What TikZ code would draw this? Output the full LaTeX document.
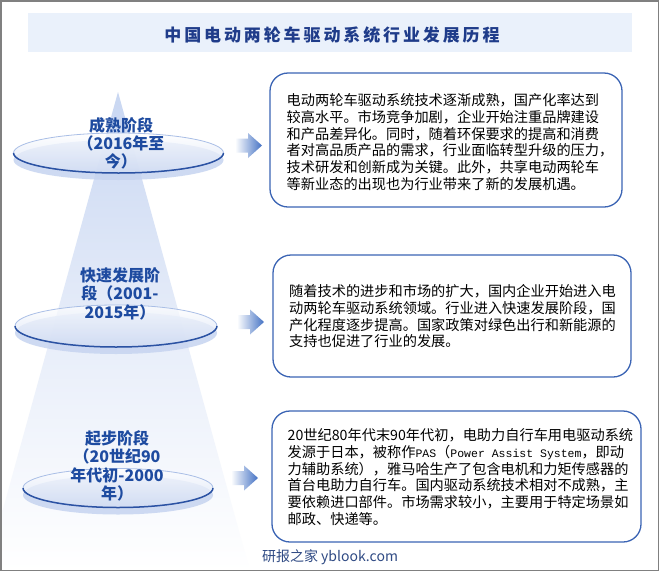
\documentclass[tikz,border=0pt]{standalone}
\usepackage{fontspec}
\setmainfont{Liberation Serif}
\newfontfamily\cjk{Noto Sans CJK SC}
\newfontfamily\cjktitle[LetterSpace=17]{Noto Sans CJK SC}
\newfontfamily\monof{Liberation Mono}
\usetikzlibrary{shapes.misc}
\definecolor{frameclr}{HTML}{808080}
\definecolor{bandclr}{HTML}{EAF1FB}
\definecolor{titleclr}{HTML}{1F3C8A}
\definecolor{labelclr}{HTML}{1E4BA0}
\definecolor{boxclr}{HTML}{3B64B4}
\definecolor{arrowclr}{HTML}{4472C4}
\definecolor{disctop}{HTML}{D3DEF4}
\definecolor{discedge}{HTML}{A9BEE6}
\definecolor{discdark}{HTML}{2B52A3}
\definecolor{discbase}{HTML}{C6D4F0}
\definecolor{beamclr}{HTML}{C9D7F2}
\definecolor{footclr}{HTML}{2F4A84}
\newcommand\stagedisc[4]{%
  \fill[discbase, fill opacity=0.85] (#1,#2+7) ellipse [x radius=#3pt, y radius=#4pt];
  \shade[top color=white, bottom color=disctop, fill opacity=0.75] (#1,#2) ellipse [x radius=#3pt, y radius=#4pt];
  \draw[discedge, line width=0.8pt] (#1,#2) ellipse [x radius=#3pt, y radius=#4pt];
  \draw[discdark, line width=1.5pt] (#1-#3,#2) arc [start angle=180, end angle=360, x radius=#3pt, y radius=#4pt];
}
\newcommand\stagearrow[2]{%
  \shade[left color=white, right color=arrowclr]
    (#1,#2-7) -- (#1+13,#2-7) -- (#1+13,#2-12.5) -- (#1+27,#2) -- (#1+13,#2+12.5) -- (#1+13,#2+7) -- (#1,#2+7) -- cycle;
}
\newcommand\monotext[1]{{\monof\fontsize{11.5}{16.7}\selectfont #1}}
\begin{document}
\begin{tikzpicture}[x=1pt,y=-1pt,
  stagebox/.style={draw=boxclr, line width=1.3pt, rounded corners=18pt, fill=white},
  boxtext/.style={anchor=north west, inner sep=0pt, align=left, font=\cjk\fontsize{14.2}{16.7}\selectfont, text=black},
  stagelabel/.style={inner sep=0pt, align=center, text=labelclr, font=\cjk\bfseries\fontsize{16}{18.4}\selectfont}]
\useasboundingbox (0,0) rectangle (659,571);
\fill[white] (0,0) rectangle (659,571);
% title band
\fill[bandclr] (28,13) rectangle (632,52);
\node[inner sep=0pt, text=titleclr, font=\cjktitle\bfseries\fontsize{17}{20}\selectfont] (title) at (332,35.5) {中国电动两轮车驱动系统行业发展历程};
% beam
\begin{scope}
\clip (2,60) rectangle (265,569);
\shade[top color=beamclr, bottom color=white, middle color=beamclr!45!white] (118,92) -- (250,571) -- (-14,571) -- cycle;
\end{scope}
% discs
\stagedisc{118.5}{153}{105}{20}
\stagedisc{116}{326}{101}{21}
\stagedisc{118}{488}{95}{19.5}
% stage labels
\node[stagelabel] (s1) at (121,143.3) {成熟阶段\\（2016年至\\今）};
\node[stagelabel] (s2) at (120,293.5) {快速发展阶\\段（2001-\\2015年）};
\node[stagelabel] (s3) at (117,466) {起步阶段\\（20世纪90\\年代初-2000\\年）};
% arrows
\stagearrow{235}{145.5}
\stagearrow{237}{322}
\stagearrow{231}{478}
% boxes
\node[stagebox, minimum width=352pt, minimum height=134pt] (box1) at (446,140) {};
\node[stagebox, minimum width=358pt, minimum height=122pt] (box2) at (452,316) {};
\node[stagebox, minimum width=369pt, minimum height=131pt] (box3) at (456.5,476.5) {};
\node[boxtext] (t1) at (286.5,93.5) {电动两轮车驱动系统技术逐渐成熟，国产化率达到\\较高水平。市场竞争加剧，企业开始注重品牌建设\\和产品差异化。同时，随着环保要求的提高和消费\\者对高品质产品的需求，行业面临转型升级的压力，\\技术研发和创新成为关键。此外，共享电动两轮车\\等新业态的出现也为行业带来了新的发展机遇。};
\node[boxtext] (t2) at (289,284.5) {随着技术的进步和市场的扩大，国内企业开始进入电\\动两轮车驱动系统领域。行业进入快速发展阶段，国\\产化程度逐步提高。国家政策对绿色出行和新能源的\\支持也促进了行业的发展。};
\node[boxtext] (t3) at (287.5,428.5) {20世纪80年代末90年代初，电助力自行车用电驱动系统\\发源于日本，被称作\monotext{PAS}（\monotext{Power Assist System}，即动\\力辅助系统），雅马哈生产了包含电机和力矩传感器的\\首台电助力自行车。国内驱动系统技术相对不成熟，主\\要依赖进口部件。市场需求较小，主要用于特定场景如\\邮政、快递等。};
% footer
\node[inner sep=0pt, text=footclr, font=\cjk\fontsize{14}{16}\selectfont] (foot) at (330,557) {研报之家 yblook.com};
% frame
\draw[frameclr, line width=1.5pt] (0.75,0.75) rectangle (658.25,570.25);
\end{tikzpicture}
\end{document}
